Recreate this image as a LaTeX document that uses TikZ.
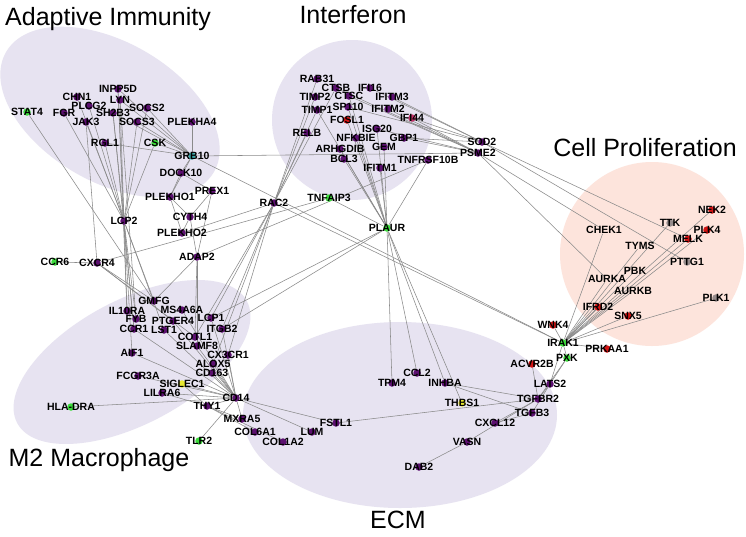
\documentclass[tikz,border=0pt]{standalone}
\usepackage{fontspec}
\setmainfont{Liberation Sans}
\pgfdeclarelayer{bg}
\pgfdeclarelayer{edges}
\pgfsetlayers{bg,edges,main}
\definecolor{gpurple}{RGB}{92,16,112}
\definecolor{ggreen}{RGB}{60,220,60}
\definecolor{gred}{RGB}{210,20,20}
\definecolor{gyellow}{RGB}{232,232,48}
\definecolor{gteal}{RGB}{58,168,168}
\definecolor{ggray}{RGB}{150,140,140}
\definecolor{gpink}{RGB}{196,48,106}
\definecolor{lav}{RGB}{231,227,241}
\definecolor{pinkbg}{RGB}{253,228,220}
\definecolor{edgegray}{RGB}{138,138,138}
\tikzset{
  gdot/.style={circle, inner sep=0pt, minimum size=7.5pt, draw=none},
  glabel/.style={font=\bfseries\fontsize{10.5}{12}\selectfont, inner sep=0pt, text=black},
  edge/.style={draw=edgegray, line width=0.55pt},
  lavregion/.style={fill=lav, draw=none},
  pinkregion/.style={fill=pinkbg, draw=none},
  grouptitle/.style={font=\fontsize{25}{30}\selectfont, inner sep=0pt}
}
\newcommand\gene[5]{\node[gdot, fill=#4] (#1) at (#2,#3) {}; \node[glabel] (#1L) at (#2,#3) {#5};}
\begin{document}
\begin{tikzpicture}[x=1pt, y=-1pt]
\useasboundingbox (0,0) rectangle (746,536);
\begin{pgfonlayer}{bg}
\fill[white] (0,0) rectangle (746,536);
\fill[lavregion, rotate around={-30:(110,112)}] (110,112) ellipse [x radius=120, y radius=70];
\fill[lavregion] (352,120) ellipse [x radius=80, y radius=80];
\fill[pinkregion] (652,254) ellipse [x radius=92, y radius=92];
\fill[lavregion, rotate around={28:(132,362)}] (132,362) ellipse [x radius=130, y radius=62];
\fill[lavregion] (400,415) ellipse [x radius=157, y radius=93];
\end{pgfonlayer}
% titles
\node[grouptitle] (tAI) at (108,19) {Adaptive Immunity};
\node[grouptitle] (tIF) at (353,15) {Interferon};
\node[grouptitle] (tCP) at (645,148) {Cell Proliferation};
\node[grouptitle] (tM2) at (99,460) {M2 Macrophage};
\node[grouptitle] (tECM) at (398,520) {ECM};
% Adaptive immunity
\gene{STAT4}{27}{112}{ggreen}{STAT4}
\gene{FGR}{64}{113}{gpurple}{FGR}
\gene{CHN1}{77}{97}{gpurple}{CHN1}
\gene{PLCG2}{89}{106}{gpurple}{PLCG2}
\gene{INPP5D}{118}{89}{gpurple}{INPP5D}
\gene{LYN}{120}{100}{gpurple}{LYN}
\gene{SH2B3}{113}{113}{gpurple}{SH2B3}
\gene{SOCS2}{147}{108}{gpurple}{SOCS2}
\gene{JAK3}{86}{122}{gpurple}{JAK3}
\gene{SOCS3}{137}{122}{gpurple}{SOCS3}
\gene{PLEKHA4}{192}{122}{gpurple}{PLEKHA4}
\gene{RGL1}{105}{143}{gpurple}{RGL1}
\gene{CSK}{155}{143}{ggreen}{CSK}
\gene{GRB10}{192}{156}{gteal}{GRB10}
\gene{DOCK10}{181}{173}{gpurple}{DOCK10}
\gene{PREX1}{212}{191}{gpurple}{PREX1}
\gene{PLEKHO1}{170}{197}{gpurple}{PLEKHO1}
\gene{CYTH4}{190}{217}{gpurple}{CYTH4}
\gene{PLEKHO2}{182}{233}{gpurple}{PLEKHO2}
\gene{ADAP2}{197}{257}{gpurple}{ADAP2}
\gene{LCP2}{124}{221}{gpurple}{LCP2}
\gene{CCR6}{55}{262}{ggreen}{CCR6}
\gene{CXCR4}{97}{263}{gpurple}{CXCR4}
% Interferon
\gene{RAB31}{317}{79}{gpurple}{RAB31}
\gene{CTSB}{336}{88}{gpurple}{CTSB}
\gene{IFI16}{370}{88}{gpurple}{IFI16}
\gene{TIMP2}{315}{97}{gpurple}{TIMP2}
\gene{CTSC}{349}{96}{gpurple}{CTSC}
\gene{IFITM3}{392}{97}{gpurple}{IFITM3}
\gene{TIMP1}{317}{110}{gpurple}{TIMP1}
\gene{SP110}{348}{107}{gpurple}{SP110}
\gene{IFITM2}{388}{109}{gpurple}{IFITM2}
\gene{IFI44}{412}{118}{gpink}{IFI44}
\gene{FOSL1}{347}{120}{gred}{FOSL1}
\gene{RELB}{307}{133}{gpurple}{RELB}
\gene{ISG20}{377}{129}{gpurple}{ISG20}
\gene{NFKBIE}{356}{138}{gpurple}{NFKBIE}
\gene{GBP1}{404}{138}{gpurple}{GBP1}
\gene{ARHGDIB}{340}{149}{gpurple}{ARHGDIB}
\gene{GEM}{384}{147}{gpurple}{GEM}
\gene{BCL3}{344}{159}{gpurple}{BCL3}
\gene{TNFRSF10B}{428}{160}{gpurple}{TNFRSF10B}
\gene{IFITM1}{380}{168}{gpurple}{IFITM1}
\gene{RAC2}{274}{203}{gpurple}{RAC2}
\gene{TNFAIP3}{329}{198}{ggreen}{TNFAIP3}
\gene{PLAUR}{387}{228}{ggreen}{PLAUR}
\gene{SOD2}{482}{142}{gpurple}{SOD2}
\gene{PSME2}{478}{153}{gpurple}{PSME2}
% Cell proliferation
\gene{CHEK1}{604}{230}{pinkbg}{CHEK1}
\gene{TTK}{670}{223}{ggray}{TTK}
\gene{NEK2}{712}{210}{gred}{NEK2}
\gene{PLK4}{707}{230}{gred}{PLK4}
\gene{MELK}{688}{239}{gred}{MELK}
\gene{TYMS}{640}{246}{pinkbg}{TYMS}
\gene{PTTG1}{687}{262}{ggray}{PTTG1}
\gene{PBK}{635}{271}{pinkbg}{PBK}
\gene{AURKA}{607}{279}{pinkbg}{AURKA}
\gene{AURKB}{633}{291}{pinkbg}{AURKB}
\gene{PLK1}{716}{298}{ggray}{PLK1}
\gene{IFRD2}{598}{307}{gred}{IFRD2}
\gene{SNX5}{628}{316}{gred}{SNX5}
\gene{WNK4}{553}{325}{gred}{WNK4}
\gene{IRAK1}{563}{343}{ggreen}{IRAK1}
\gene{PRKAA1}{607}{349}{gred}{PRKAA1}
\gene{PXK}{567}{358}{ggreen}{PXK}
\gene{ACVR2B}{532}{364}{gred}{ACVR2B}
\gene{LATS2}{550}{384}{gpurple}{LATS2}
\gene{TGFBR2}{538}{399}{gpurple}{TGFBR2}
\gene{TGFB3}{532}{413}{gpurple}{TGFB3}
% ECM
\gene{CCL2}{417}{373}{gpurple}{CCL2}
\gene{TPM4}{392}{383}{gpurple}{TPM4}
\gene{INHBA}{445}{383}{gpurple}{INHBA}
\gene{THBS1}{462}{403}{gyellow}{THBS1}
\gene{FSTL1}{336}{423}{gpurple}{FSTL1}
\gene{LUM}{312}{432}{gpurple}{LUM}
\gene{COL1A2}{283}{442}{gpurple}{COL1A2}
\gene{COL6A1}{255}{432}{gpurple}{COL6A1}
\gene{MXRA5}{242}{419}{gpurple}{MXRA5}
\gene{CXCL12}{495}{423}{gpurple}{CXCL12}
\gene{VASN}{467}{442}{gpurple}{VASN}
\gene{DAB2}{419}{467}{gpurple}{DAB2}
% M2 macrophage
\gene{GMFG}{154}{301}{gpurple}{GMFG}
\gene{IL10RA}{127}{311}{gpurple}{IL10RA}
\gene{MS4A6A}{182}{310}{gpurple}{MS4A6A}
\gene{FYB}{136}{319}{gpurple}{FYB}
\gene{PTGER4}{173}{321}{gpurple}{PTGER4}
\gene{LCP1}{211}{318}{gpurple}{LCP1}
\gene{CCR1}{134}{329}{gpurple}{CCR1}
\gene{LST1}{164}{330}{gpurple}{LST1}
\gene{ITGB2}{222}{329}{gpurple}{ITGB2}
\gene{COTL1}{195}{337}{gpurple}{COTL1}
\gene{SLAMF8}{197}{346}{gpurple}{SLAMF8}
\gene{CX3CR1}{228}{355}{gpurple}{CX3CR1}
\gene{AIF1}{132}{353}{gpurple}{AIF1}
\gene{ALOX5}{213}{364}{gpurple}{ALOX5}
\gene{CD163}{212}{373}{gpurple}{CD163}
\gene{FCGR3A}{138}{376}{gpurple}{FCGR3A}
\gene{SIGLEC1}{182}{384}{gyellow}{SIGLEC1}
\gene{LILRA6}{162}{393}{gpurple}{LILRA6}
\gene{CD14}{236}{398}{gpurple}{CD14}
\gene{THY1}{207}{406}{gpurple}{THY1}
\gene{HLADRA}{71}{407}{ggreen}{HLA-DRA}
\gene{TLR2}{199}{441}{ggreen}{TLR2}
\begin{pgfonlayer}{edges}
\foreach \a/\b in {LCP2/FGR, LCP2/CHN1, LCP2/PLCG2, LCP2/INPP5D, LCP2/LYN, LCP2/SH2B3, LCP2/JAK3, LCP2/SOCS3, LCP2/SOCS2, LCP2/RGL1, LCP2/CSK,
 GRB10/SOCS2, GRB10/SOCS3, GRB10/LYN, GRB10/SH2B3, GRB10/INPP5D, GRB10/PLEKHA4, GRB10/RGL1, GRB10/CSK, GRB10/DOCK10, GRB10/PLEKHO1, GRB10/PSME2, GRB10/IRAK1,
 STAT4/GMFG, INPP5D/IL10RA, LYN/FYB, SH2B3/CCR1, JAK3/CXCR4,
 DOCK10/PLEKHO1, DOCK10/PREX1, PLEKHO1/CYTH4, PLEKHO1/PLEKHO2, PREX1/CYTH4, PREX1/ADAP2, CYTH4/ADAP2, CYTH4/PLEKHO2,
 ADAP2/GMFG, ADAP2/COTL1, ADAP2/SLAMF8, ADAP2/TNFRSF10B,
 CXCR4/CCR6, CXCR4/GMFG, CXCR4/PTGER4, CXCR4/COTL1, CXCR4/TNFAIP3,
 LCP2/IL10RA, LCP2/FYB, LCP2/CCR1, LCP2/GMFG, LCP2/LST1, LCP2/AIF1,
 RAC2/RAB31, RAC2/TIMP2, RAC2/TIMP1, RAC2/RELB, RAC2/CTSB, RAC2/LCP1, RAC2/ITGB2, RAC2/CX3CR1, RAC2/COTL1, RAC2/ALOX5, RAC2/IRAK1, RAC2/PLEKHO2,
 PLAUR/TNFAIP3, PLAUR/TNFRSF10B, PLAUR/IFITM1, PLAUR/GEM, PLAUR/BCL3, PLAUR/ARHGDIB, PLAUR/NFKBIE, PLAUR/FOSL1, PLAUR/ISG20, PLAUR/SP110, PLAUR/CTSC, PLAUR/TIMP1,
 PLAUR/TPM4, PLAUR/CCL2, PLAUR/INHBA, PLAUR/THBS1, PLAUR/ITGB2, PLAUR/LCP1,
 SOD2/IFI16, SOD2/IFITM3, PSME2/IFITM2, SOD2/IFI44, PSME2/IFI44, PSME2/GBP1, SOD2/GBP1, PSME2/ISG20, SOD2/SP110, PSME2/CTSC, PSME2/CTSB,
 PSME2/AURKA, PSME2/CHEK1, SOD2/PTTG1, SOD2/MELK,
 IRAK1/CHEK1, IRAK1/TTK, IRAK1/NEK2, IRAK1/PLK4, IRAK1/MELK, IRAK1/TYMS, IRAK1/PBK, IRAK1/AURKA, IRAK1/AURKB, IRAK1/IFRD2, IRAK1/SNX5, IRAK1/PLK1, IRAK1/WNK4, IRAK1/PRKAA1, IRAK1/PXK, IRAK1/LATS2,
 PXK/LATS2, PXK/TGFBR2, ACVR2B/TGFBR2, LATS2/TGFBR2, LATS2/TGFB3,
 TGFBR2/INHBA, TGFBR2/FSTL1, TGFBR2/CXCL12, TGFBR2/VASN, TGFB3/INHBA, TGFB3/CXCL12, DAB2/VASN,
 CD14/FSTL1, CD14/LUM, THY1/COL6A1, THY1/COL1A2, THY1/MXRA5, CD14/MXRA5,
 CD14/HLADRA, CD14/LILRA6, CD14/SIGLEC1, CD14/FCGR3A, CD14/AIF1, CD14/CCR1, CD14/LST1, CD14/ALOX5, CD14/CD163, CD14/CX3CR1, CD14/THY1, CD14/TLR2, CD14/LCP1, CD14/ITGB2, CD14/MS4A6A, CD14/PTGER4, CD14/SLAMF8,
 THY1/LILRA6, THY1/SIGLEC1}
 \draw[edge] (\a) -- (\b);
\end{pgfonlayer}
\end{tikzpicture}
\end{document}
